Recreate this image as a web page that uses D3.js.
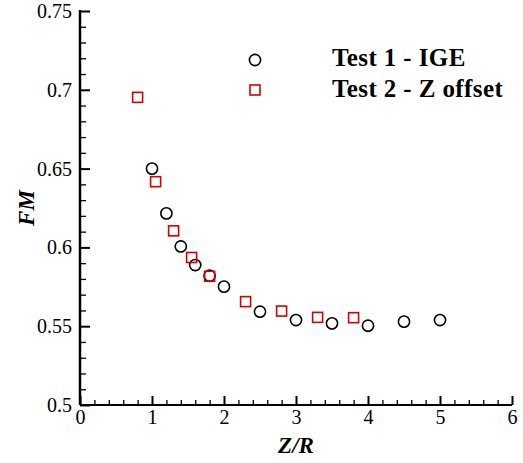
<!DOCTYPE html>
<html>
<head>
  <meta charset='utf-8'>
  <title>FM vs Z/R</title>
  <style type='text/css'>
body{
  margin:0;
  background:#fff;
}
svg text{
  font-family: 'Liberation Serif';
  fill:#000;
}
  </style>
</head>
<body>
<div id='chart'></div>
<script src='https://cdn.jsdelivr.net/npm/d3@7'></script>
<script type='text/javascript'>

// Test 1 - IGE (circles)
var test1Z  = [1.0, 1.2, 1.4, 1.6, 1.8, 2.0, 2.5, 3.0, 3.5, 4.0, 4.5, 5.0];
var test1FM = [0.650, 0.6216, 0.6006, 0.5888, 0.5820, 0.5751, 0.5592, 0.5539, 0.5518, 0.5503, 0.5529, 0.5539];

// Test 2 - Z offset (squares)
var test2Z  = [0.8, 1.05, 1.3, 1.55, 1.8, 2.3, 2.8, 3.3, 3.8];
var test2FM = [0.6952, 0.6417, 0.6105, 0.5936, 0.5817, 0.5656, 0.5596, 0.5556, 0.5554];

var xTicks = [0, 1, 2, 3, 4, 5, 6];
var yTicks = [0.5, 0.55, 0.6, 0.65, 0.7, 0.75];
var legendLabels = ['Test 1 - IGE', 'Test 2 - Z offset'];

var W = 523, H = 463;
var svg = d3.select('#chart').append('svg')
    .attr('width', W)
    .attr('height', H)
    .attr('font-family', 'Liberation Serif');

var x = d3.scaleLinear().domain([0, 6]).range([80, 512]);
var y = d3.scaleLinear().domain([0.5, 0.75]).range([405, 11]);

// minor ticks
var xMinor = d3.range(0, 6.001, 0.2).filter(function(v){ return Math.abs(v - Math.round(v)) > 1e-6; });
var yMinor = d3.range(0.5, 0.7501, 0.01).filter(function(v){ return Math.abs(v*20 - Math.round(v*20)) > 1e-6; });

svg.append('g')
    .attr('transform', 'translate(0,405)')
    .call(d3.axisBottom(x).tickValues(xMinor).tickSize(-5).tickFormat(''))
    .call(function(g){ g.select('.domain').remove(); g.selectAll('line').attr('stroke-width', 1.3); });

svg.append('g')
    .attr('transform', 'translate(80,0)')
    .call(d3.axisLeft(y).tickValues(yMinor).tickSize(-6).tickFormat(''))
    .call(function(g){ g.select('.domain').remove(); g.selectAll('line').attr('stroke-width', 1.3); });

// major ticks
var xAxis = svg.append('g')
    .attr('transform', 'translate(0,405)')
    .call(d3.axisBottom(x).tickValues(xTicks).tickSize(-9).tickPadding(5).tickFormat(d3.format('d')));
xAxis.attr('font-family', 'Liberation Serif').attr('font-size', 20);
xAxis.select('.domain').attr('stroke-width', 2).attr('d', 'M80,0H512');
xAxis.selectAll('line').attr('stroke-width', 2);

var yAxis = svg.append('g')
    .attr('transform', 'translate(80,0)')
    .call(d3.axisLeft(y).tickValues(yTicks).tickSize(-10).tickPadding(8)
      .tickFormat(function(d){ return String(+d.toFixed(2)); }));
yAxis.attr('font-family', 'Liberation Serif').attr('font-size', 20);
yAxis.select('.domain').attr('stroke-width', 2.5).attr('d', 'M0,10V405');
yAxis.selectAll('line').attr('stroke-width', 2);

// axis titles
svg.append('text')
    .attr('x', 296)
    .attr('y', 453)
    .style('text-anchor', 'middle')
    .style('font-weight', 'bold')
    .style('font-style', 'italic')
    .style('font-size', '23px')
    .text('Z/R');

svg.append('text')
    .attr('transform', 'translate(34,208) rotate(-90)')
    .style('text-anchor', 'middle')
    .style('font-weight', 'bold')
    .style('font-style', 'italic')
    .style('font-size', '23px')
    .text('FM');

var red = '#d40000';

// series
svg.selectAll('circle.t1')
    .data(test1Z)
    .enter()
    .append('circle')
    .attr('class', 't1')
    .attr('cx', function(d){ return x(d); })
    .attr('cy', function(d, i){ return y(test1FM[i]); })
    .attr('r', 5.6)
    .attr('fill', 'none')
    .attr('stroke', '#000')
    .attr('stroke-width', 1.6);

svg.selectAll('rect.t2')
    .data(test2Z)
    .enter()
    .append('rect')
    .attr('class', 't2')
    .attr('x', function(d){ return x(d) - 5; })
    .attr('y', function(d, i){ return y(test2FM[i]) - 5; })
    .attr('width', 10)
    .attr('height', 10)
    .attr('fill', 'none')
    .attr('stroke', red)
    .attr('stroke-width', 1.6);

// legend
var legend = svg.append('g');
legend.append('circle')
    .attr('cx', 255).attr('cy', 60).attr('r', 5.6)
    .attr('fill', 'none').attr('stroke', '#000').attr('stroke-width', 1.6);
legend.append('rect')
    .attr('x', 250).attr('y', 85).attr('width', 10).attr('height', 10)
    .attr('fill', 'none').attr('stroke', red).attr('stroke-width', 1.6);
legend.selectAll('text')
    .data(legendLabels)
    .enter()
    .append('text')
    .attr('x', 332)
    .attr('y', function(d, i){ return 66 + i * 30.5; })
    .style('font-weight', 'bold')
    .style('font-size', '25px')
    .style('letter-spacing', '0.4px')
    .text(function(d){ return d; });

</script>
</body>
</html>
